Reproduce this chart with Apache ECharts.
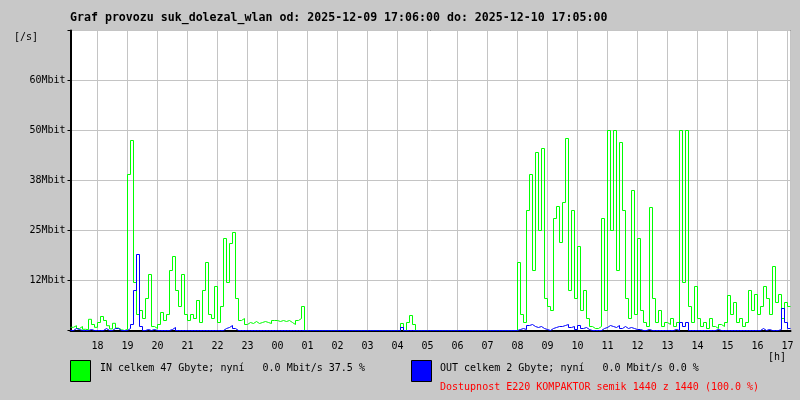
<!DOCTYPE html>
<html><head><meta charset="utf-8">
<script src="https://cdn.jsdelivr.net/npm/echarts@6/dist/echarts.min.js"></script>
<style>html,body{margin:0;padding:0;background:#c8c8c8}#c{width:800px;height:400px}</style>
</head><body><div id="c"></div>
<script>
const titleText = 'Graf provozu suk_dolezal_wlan od: 2025-12-09 17:06:00 do: 2025-12-10 17:05:00';
const startTime = new Date(2025, 11, 9, 17, 6, 0).getTime();
const stepMinutes = 6;
const spanMinutes = 1440;
const yTickValues = [12.5, 25, 37.5, 50, 62.5];
const yTickLabels = ['12Mbit', '25Mbit', '38Mbit', '50Mbit', '60Mbit'];
const legendIn = 'IN celkem 47 Gbyte; nyní   0.0 Mbit/s 37.5 %';
const legendOut = 'OUT celkem 2 Gbyte; nyní   0.0 Mbit/s 0.0 %';
const availability = 'Dostupnost E220 KOMPAKTOR semik 1440 z 1440 (100.0 %)';

// IN traffic, Mbit/s, one value per 6 minutes from 17:06
const inMbit = [
  0.8, 1.2, 0.5, 1.0, 0.3, 0.2, 2.8, 1.5, 0.8, 2.0,
  3.5, 2.5, 1.2, 0.4, 1.8, 0.6, 0.2, 0.0, 0.3,
  39, 47.5, 12, 4, 5, 3, 8, 14, 1, 0.5, 1.5,
  4.5, 2.5, 4, 15, 18.5, 10, 6, 14, 4,
  2.5, 4, 3, 7.5, 2, 10, 17, 4, 3, 11, 2,
  6, 23, 12, 21.75, 24.5, 8, 2.5, 3, 1.5,
  2, 1.75, 2.25, 1.75, 2, 2.25, 2, 1.75, 2.5, 2.5, 2.25, 2.5, 2.25, 2.5, 2, 1.5, 2.5, 3,
  6,
  0, 0, 0, 0, 0, 0, 0, 0, 0, 0, 0, 0, 0, 0, 0, 0,
  0, 0, 0, 0, 0, 0, 0, 0, 0, 0, 0, 0, 0, 0, 0, 0,
  1.75, 0, 2, 3.75, 1.5,
  0, 0, 0, 0, 0, 0, 0, 0, 0, 0, 0, 0, 0, 0, 0, 0, 0,
  0, 0, 0, 0, 0, 0, 0, 0, 0, 0, 0, 0, 0, 0, 0, 0, 0,
  17, 4, 2, 30, 39, 15, 44.5, 25, 45.5, 8,
  6, 5, 28, 31, 22, 32, 48, 10, 30, 8,
  21, 5, 10, 3,
  1, 0.5, 0.5, 1,
  28, 5, 50, 25, 50, 15, 47, 30, 8, 3,
  35, 4, 23, 5, 2, 1, 30.75, 8, 2, 5,
  1, 2, 1.5, 3, 1, 2,
  50, 12, 50, 6, 2, 11, 3, 1, 2, 0.5,
  3, 1, 0.5, 1.5, 1, 2, 8.75, 4, 7, 2,
  3, 1, 2, 10, 5, 9, 4, 6, 11, 8,
  4, 16, 7, 9, 3, 7, 6
];

// OUT traffic, Mbit/s
const outMbit = [
  0, 0.5, 0.25, 0, 0, 0, 0.25, 0, 0, 0, 0, 0.5, 0, 0, 0.5, 0.5, 0, 0, 0,
  0.5, 1.5, 10, 19, 1,
  0, 0.25, 0, 0.25, 0, 0, 0, 0, 0, 0.25, 0.75, 0, 0, 0,
  0, 0, 0, 0, 0, 0, 0, 0, 0, 0, 0, 0, 0,
  0.5, 0.75, 1.25, 0.5,
  0, 0, 0, 0, 0, 0, 0, 0, 0, 0, 0, 0, 0, 0, 0, 0, 0, 0, 0, 0,
  0, 0, 0, 0, 0, 0, 0, 0, 0, 0, 0, 0, 0, 0, 0, 0, 0, 0, 0, 0,
  0, 0, 0, 0, 0, 0, 0, 0, 0, 0, 0, 0, 0, 0, 0,
  0.75,
  0, 0, 0, 0, 0, 0, 0, 0, 0, 0, 0, 0, 0, 0, 0, 0, 0, 0, 0,
  0, 0, 0, 0, 0, 0, 0, 0, 0, 0, 0, 0, 0, 0, 0, 0, 0, 0, 0,
  0.25, 0.5, 0.25, 1.25, 1.5, 1.0, 0.75, 1.0, 0.5, 0.25, 0, 0.5,
  0.75, 1.0, 1.0, 1.25, 1.5, 0.75, 1.0, 0.25, 1.25, 0.5, 0.75, 0.25,
  0, 0, 0, 0,
  0.5, 0.75, 1.25, 1.0, 0.75, 1.25, 0.5, 1.0, 0.5, 0.75, 0.5, 0.25,
  0.25, 0, 0, 0.25, 0, 0, 0, 0, 0, 0, 0, 0, 0.25, 0,
  2, 1, 2,
  0, 0, 0, 0, 0, 0, 0, 0, 0, 0.25, 0, 0, 0, 0, 0, 0, 0, 0, 0, 0, 0, 0, 0, 0,
  0.5, 0, 0.25, 0, 0, 0, 0.25, 5.5, 2, 0.5
];

function toSeries(arr) {
  const d = arr.map((v, i) => [startTime + i * stepMinutes * 60000, v]);
  d.push([startTime + spanMinutes * 60000, arr[arr.length - 1]]);
  return d;
}
function pad(n) { return (n < 10 ? '0' : '') + n; }

const mono = 'DejaVu Sans Mono';
const chart = echarts.init(document.getElementById('c'), null, { renderer: 'canvas' });
chart.setOption({
  backgroundColor: '#c8c8c8',
  animation: false,
  grid: { left: 70.5, right: 9.5, top: 30.5, bottom: 69.5, show: true, backgroundColor: '#ffffff', borderColor: '#000000', borderWidth: 1 },
  xAxis: {
    type: 'time',
    min: startTime,
    max: startTime + spanMinutes * 60000,
    minInterval: 3600000,
    maxInterval: 3600000,
    axisLine: { show: true, lineStyle: { color: '#000', width: 2 } },
    axisTick: { show: false },
    splitLine: { show: true, lineStyle: { color: '#c4c4c4', width: 1 } },
    axisLabel: {
      color: '#000', fontFamily: mono, fontSize: 10, margin: 11,
      showMinLabel: true, showMaxLabel: true,
      formatter: function (value) {
        const d = new Date(value);
        if (d.getMinutes() !== 0) return '';
        return pad(d.getHours());
      }
    }
  },
  yAxis: {
    type: 'value', min: 0, max: 75, interval: 12.5,
    axisLine: { show: true, lineStyle: { color: '#000', width: 2 } },
    axisTick: { show: true, length: 3, lineStyle: { color: '#000' } },
    splitLine: { show: true, lineStyle: { color: '#c4c4c4', width: 1 } },
    axisLabel: {
      color: '#000', fontFamily: mono, fontSize: 10, margin: 5,
      formatter: function (v) {
        const k = yTickValues.indexOf(v);
        return k >= 0 ? yTickLabels[k] : '';
      }
    }
  },
  series: [
    { name: 'IN', type: 'line', step: 'end', showSymbol: false, symbol: 'none',
      lineStyle: { color: '#00ff00', width: 1 }, data: toSeries(inMbit), z: 3 },
    { name: 'OUT', type: 'line', step: 'end', showSymbol: false, symbol: 'none',
      lineStyle: { color: '#0000ff', width: 1 }, data: toSeries(outMbit), z: 4 }
  ],
  graphic: [
    { type: 'text', x: 70, y: 18, style: { text: titleText, fill: '#000', font: 'bold 11.6px "DejaVu Sans Mono"', verticalAlign: 'middle', align: 'left' } },
    { type: 'text', x: 26, y: 37, style: { text: '[/s]', fill: '#000', font: '10px "DejaVu Sans Mono"', verticalAlign: 'middle', align: 'center' } },
    { type: 'text', x: 777, y: 357, style: { text: '[h]', fill: '#000', font: '10px "DejaVu Sans Mono"', verticalAlign: 'middle', align: 'center' } },
    { type: 'rect', shape: { x: 70.5, y: 360.5, width: 20, height: 21 }, style: { fill: '#00ff00', stroke: '#000', lineWidth: 1 } },
    { type: 'text', x: 100, y: 368, style: { text: legendIn, fill: '#000', font: '10px "DejaVu Sans Mono"', verticalAlign: 'middle', align: 'left' } },
    { type: 'rect', shape: { x: 411.5, y: 360.5, width: 20, height: 21 }, style: { fill: '#0000ff', stroke: '#000', lineWidth: 1 } },
    { type: 'text', x: 440, y: 368, style: { text: legendOut, fill: '#000', font: '10px "DejaVu Sans Mono"', verticalAlign: 'middle', align: 'left' } },
    { type: 'text', x: 440, y: 387, style: { text: availability, fill: '#ff0000', font: '10px "DejaVu Sans Mono"', verticalAlign: 'middle', align: 'left' } }
  ]
});
</script></body></html>
